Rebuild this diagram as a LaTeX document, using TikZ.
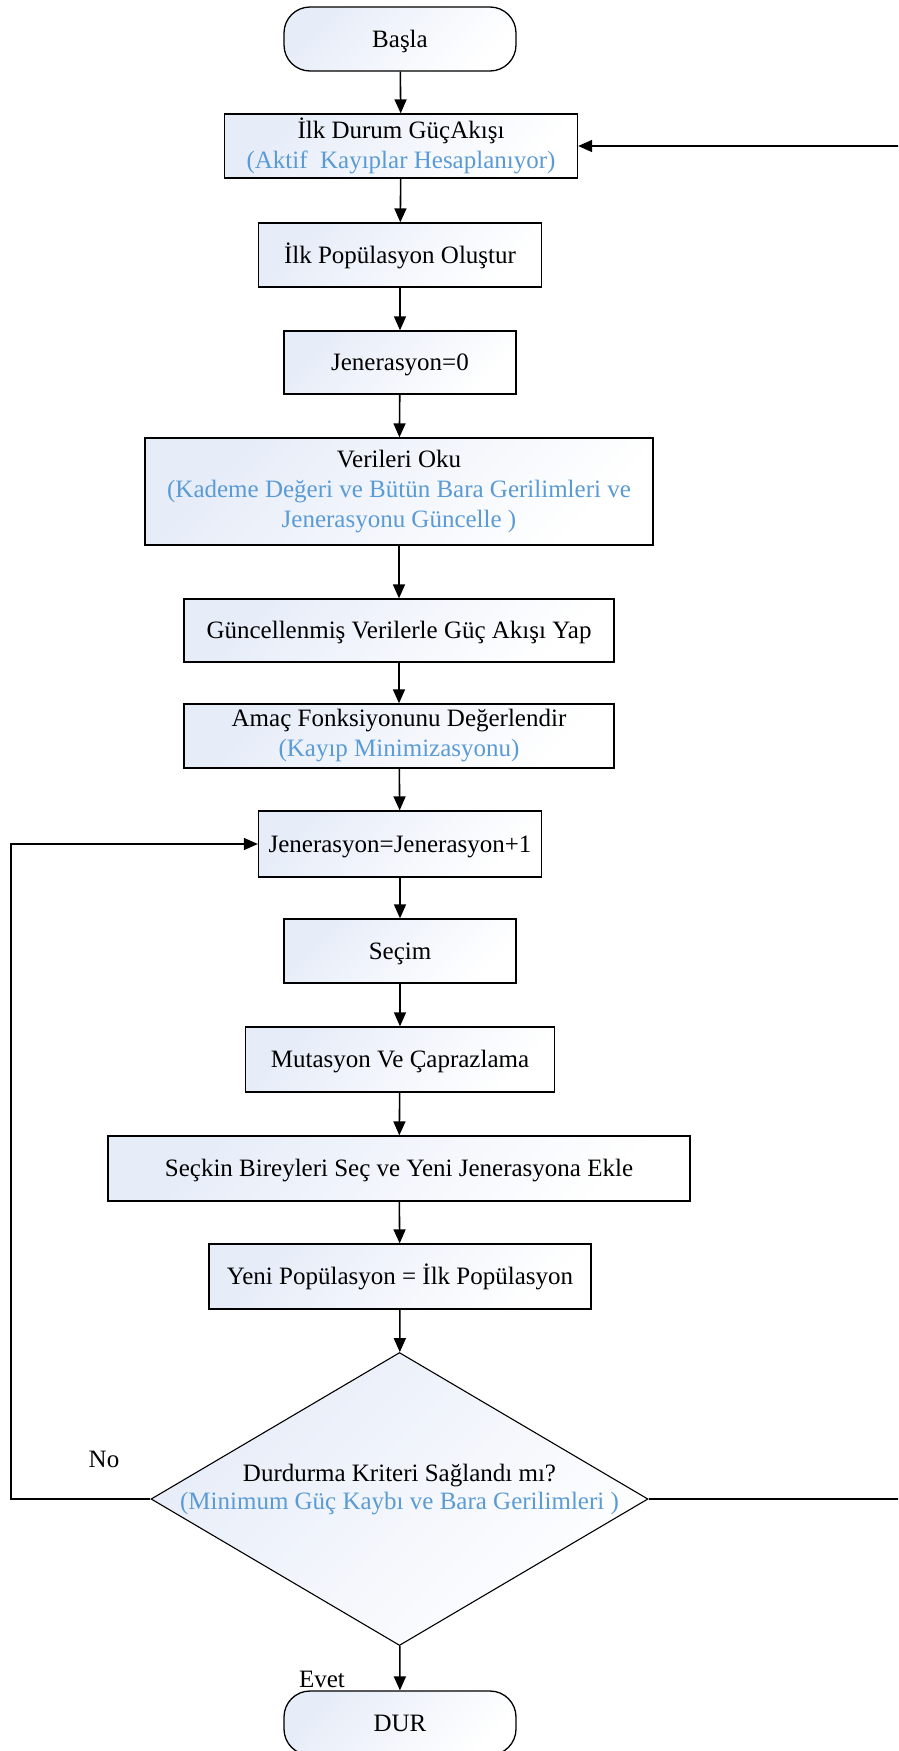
\documentclass[tikz,border=0pt]{standalone}
\usepackage{fontspec}
\setmainfont{Liberation Serif}
\usetikzlibrary{shapes.geometric,arrows.meta}
\definecolor{grad}{RGB}{230,236,248}
\definecolor{bluetxt}{RGB}{91,155,213}
\newcommand{\st}{\rule[-5.4pt]{0pt}{27.7pt}}
\tikzset{
  shade/.style={top color=grad, middle color=white!82!grad, bottom color=white, shading angle=45},
  proc/.style={draw=black, line width=1.3pt, shade, inner sep=0pt, align=center,
    font=\fontsize{25}{30}\selectfont,
    execute at begin node={\st}, execute at end node={\st}},
  term/.style={proc, rounded corners=26pt},
  dec/.style={draw=black, line width=1.1pt, shade, diamond, aspect=1.7, inner sep=0pt,
    font=\fontsize{25}{28}\selectfont},
  arr/.style={line width=1.6pt, -{Triangle[length=14pt,width=12pt]}},
  lbl/.style={font=\fontsize{25}{30}\selectfont, inner sep=0pt},
}
\newcommand{\bl}[1]{\textcolor{bluetxt}{#1}}
\begin{document}
\begin{tikzpicture}[x=1pt,y=-1pt]
\clip (0,0) rectangle (898,1751);
\node[term, minimum width=232, minimum height=64] (basla) at (400,39) {Başla};
\node[proc, minimum width=353, minimum height=64] (ilk) at (401,146) {İlk Durum GüçAkışı\\\bl{(Aktif\ \ Kayıplar Hesaplanıyor)}};
\node[proc, minimum width=283, minimum height=64] (pop) at (400,255) {İlk Popülasyon Oluştur};
\node[proc, minimum width=232, minimum height=63] (jen0) at (400,362.5) {Jenerasyon=0};
\node[proc, minimum width=508, minimum height=107] (oku) at (399,491.5) {Verileri Oku\\\bl{(Kademe Değeri ve Bütün Bara Gerilimleri ve}\\\bl{Jenerasyonu Güncelle )}};
\node[proc, minimum width=430, minimum height=63] (gunc) at (399,630.5) {Güncellenmiş Verilerle Güç Akışı Yap};
\node[proc, minimum width=430, minimum height=64] (amac) at (399,736) {Amaç Fonksiyonunu Değerlendir\\\bl{(Kayıp Minimizasyonu)}};
\node[proc, minimum width=283, minimum height=66] (jen1) at (400,844) {Jenerasyon=Jenerasyon+1};
\node[proc, minimum width=232, minimum height=64] (secim) at (400,951) {Seçim};
\node[proc, minimum width=309, minimum height=65] (mut) at (400,1059.5) {Mutasyon Ve Çaprazlama};
\node[proc, minimum width=582, minimum height=65] (seckin) at (399,1168.5) {Seçkin Bireyleri Seç ve Yeni Jenerasyona Ekle};
\node[proc, minimum width=382, minimum height=65] (yeni) at (400,1276.5) {Yeni Popülasyon = İlk Popülasyon};
\node[dec, minimum width=497, minimum height=293] (dia) at (399.5,1499) {\raisebox{-10pt}[0pt][0pt]{\makebox[0pt]{\begin{tabular}[b]{@{}c@{}}Durdurma Kriteri Sağlandı mı?\\\bl{(Minimum Güç Kaybı ve Bara Gerilimleri )}\end{tabular}}}};
\node[term, minimum width=232, minimum height=64] (dur) at (400,1723) {DUR};
\draw[arr] (basla) -- (ilk);
\draw[arr] (ilk) -- (pop);
\draw[arr] (pop) -- (jen0);
\draw[arr] (jen0) -- (oku);
\draw[arr] (oku) -- (gunc);
\draw[arr] (gunc) -- (amac);
\draw[arr] (amac) -- (jen1);
\draw[arr] (jen1) -- (secim);
\draw[arr] (secim) -- (mut);
\draw[arr] (mut) -- (seckin);
\draw[arr] (seckin) -- (yeni);
\draw[arr] (yeni) -- (dia);
\draw[arr] (dia) -- (dur);
\coordinate (lc) at (11,1499);
\coordinate (rc) at (905,1499);
\draw[arr] (dia.west) -- (lc) |- (jen1.west);
\draw[arr] (dia.east) -- (rc) |- (ilk.east);
\node[lbl] (no) at (104,1459) {No};
\node[lbl] (evet) at (322,1679) {Evet};
\end{tikzpicture}
\end{document}
